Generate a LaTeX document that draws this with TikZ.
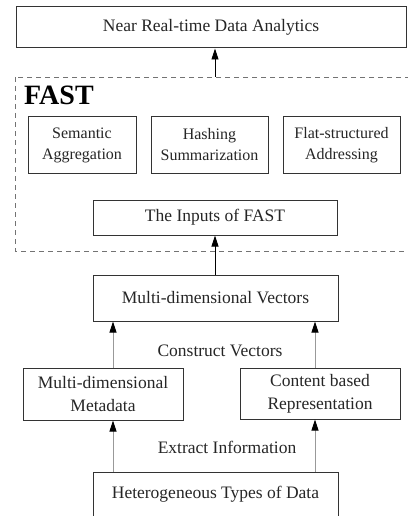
\documentclass[tikz,border=0pt]{standalone}
\usepackage{fontspec}
\setmainfont{Liberation Serif}
\usetikzlibrary{arrows.meta}
\begin{document}
\begin{tikzpicture}[x=1pt,y=-1pt,
  box/.style={draw=black!80,line width=1pt,inner sep=0pt,align=center,text=black!85,font=\fontsize{17.5}{23}\selectfont},
  sbox/.style={box,font=\fontsize{16}{21}\selectfont},
  lbl/.style={inner sep=0pt,text=black!85,font=\fontsize{17.5}{23}\selectfont},
  arr/.style={line width=0.9pt,-{Triangle[length=11pt,width=7pt]}},
  garr/.style={draw=black!40,line width=0.9pt,-{Triangle[length=11pt,width=7pt,fill=black,color=black]}}]
\useasboundingbox (0,0) rectangle (407,516);
\fill[white] (0,0) rectangle (407,516);
% FAST dashed region
\draw[black!55,line width=0.9pt,dash pattern=on 5pt off 4pt] (15,77) rectangle (412,251);
\node[anchor=north west,inner sep=0pt,font=\fontsize{28}{30}\selectfont\bfseries] (fast) at (24,86) {FAST};
\coordinate (fasttop) at (215,77);
% boxes
\node[box,minimum width=390pt,minimum height=41pt] (nrt) at (211,27.5) {Near Real-time Data Analytics};
\node[sbox,minimum width=108pt,minimum height=57pt] (sem) at (82,145) {Semantic\\Aggregation};
\node[sbox,minimum width=117pt,minimum height=57pt] (hash) at (209.5,145) {Hashing\\Summarization};
\node[sbox,minimum width=117pt,minimum height=57pt] (flat) at (341.5,145) {Flat-structured\\Addressing};
\node[box,minimum width=244pt,minimum height=35pt] (inp) at (215,217.5) {The Inputs of FAST};
\node[box,minimum width=245pt,minimum height=46pt] (mdv) at (215.5,298) {Multi-dimensional Vectors};
\node[box,minimum width=160pt,minimum height=52pt] (meta) at (103,394) {Multi-dimensional\\Metadata};
\node[box,minimum width=160pt,minimum height=51pt] (cont) at (320,393.5) {Content based\\Representation};
\node[box,minimum width=245pt,minimum height=44pt] (het) at (215.5,494) {Heterogeneous Types of Data};
\node[lbl] (cv) at (220,351) {Construct Vectors};
\node[lbl] (ei) at (227,447) {Extract Information};
% arrows
\draw[arr] (fasttop) -- (fasttop |- nrt.south);
\draw[arr] (mdv.north -| 215,0) -- (inp.south -| 215,0);
\draw[garr] (meta.north -| 113,0) -- (mdv.south -| 113,0);
\draw[garr] (cont.north -| 315,0) -- (mdv.south -| 315,0);
\draw[garr] (het.north -| 113,0) -- (meta.south -| 113,0);
\draw[garr] (het.north -| 315,0) -- (cont.south -| 315,0);
\end{tikzpicture}
\end{document}
